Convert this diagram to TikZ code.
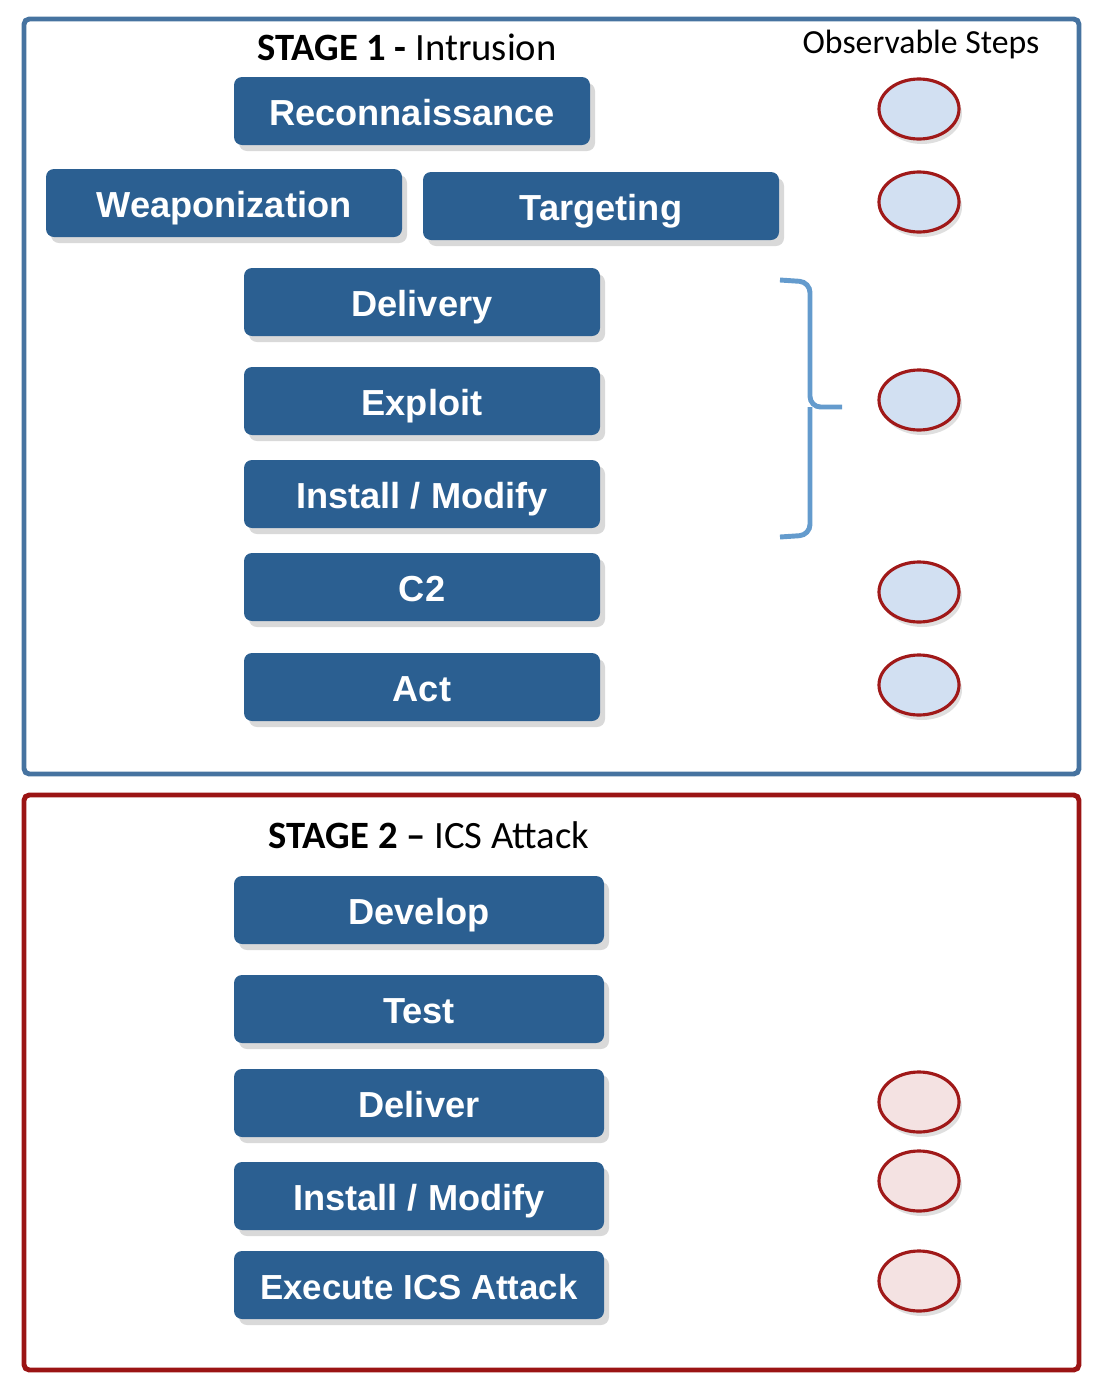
\documentclass[tikz,border=0pt]{standalone}
\usepackage{fontspec}
\setmainfont{Carlito}
\newfontfamily\boxfont{Liberation Sans}
\usetikzlibrary{shadows,shapes.geometric}

\definecolor{frameblue}{RGB}{70,115,160}
\definecolor{framered}{RGB}{155,20,20}
\definecolor{stepblue}{RGB}{43,95,145}
\definecolor{bracketblue}{RGB}{100,155,205}
\definecolor{ovalblue}{RGB}{210,224,242}
\definecolor{ovalred}{RGB}{244,226,226}
\definecolor{ovaledge}{RGB}{160,25,25}

\begin{document}
\begin{tikzpicture}[
	stepbox/.style={rectangle, rounded corners=0.08cm, fill=stepblue, text=white,
		font=\boxfont\bfseries\fontsize{10.3}{12}\selectfont,
		text height=1.05em, text depth=0.2em,
		minimum width=3.56cm, minimum height=0.68cm, inner sep=0pt,
		drop shadow={shadow xshift=0.05cm, shadow yshift=-0.06cm, opacity=0.3}},
	widebox/.style={stepbox, minimum width=3.7cm},
	obs/.style={ellipse, draw=ovaledge, line width=0.9pt, minimum width=0.8cm,
		minimum height=0.6cm, inner sep=0pt,
		drop shadow={shadow xshift=0.03cm, shadow yshift=-0.05cm, opacity=0.25}},
	stagetitle/.style={font=\fontsize{11}{13}\selectfont, inner sep=0pt},
	frame/.style={line width=1.4pt, rounded corners=1.5pt}
]
	\useasboundingbox (0,0) rectangle (11.04,-13.88);

	% stage frames
	\draw[frame, frameblue] (0.24,-0.19) rectangle (10.79,-7.74);
	\draw[frame, framered] (0.24,-7.95) rectangle (10.79,-13.70);

	% titles
	\node[stagetitle] (title1) at (4.07,-0.47) {\textbf{STAGE 1 -} Intrusion};
	\node[stagetitle] (title2) at (4.29,-8.35) {\textbf{STAGE 2 --} ICS Attack};
	\node[font=\fontsize{9.6}{11}\selectfont, inner sep=0pt] (obstitle) at (9.21,-0.44) {Observable Steps};

	% stage 1 steps
	\node[stepbox] (recon) at (4.12,-1.11) {Reconnaissance};
	\node[stepbox] (weapon) at (2.24,-2.03) {Weaponization};
	\node[stepbox] (target) at (6.01,-2.06) {Targeting};
	\node[stepbox] (delivery) at (4.22,-3.02) {Delivery};
	\node[stepbox] (exploit) at (4.22,-4.01) {Exploit};
	\node[stepbox] (install) at (4.22,-4.94) {Install / Modify};
	\node[stepbox] (ctwo) at (4.22,-5.87) {C2};
	\node[stepbox] (act) at (4.22,-6.87) {Act};

	% stage 2 steps
	\node[widebox] (develop) at (4.19,-9.10) {Develop};
	\node[widebox] (test) at (4.19,-10.09) {Test};
	\node[widebox] (deliver) at (4.19,-11.03) {Deliver};
	\node[widebox] (installb) at (4.19,-11.96) {Install / Modify};
	\node[widebox, font=\boxfont\bfseries\fontsize{9.9}{12}\selectfont] (execute) at (4.19,-12.85) {Execute ICS Attack};

	% observable steps
	\foreach \y [count=\i] in {1.09,2.02,4.00,5.92,6.85}
		\node[obs, fill=ovalblue] (obs\i) at (9.19,-\y) {};
	\foreach \y [count=\i] in {11.02,11.81,12.81}
		\node[obs, fill=ovalred] (obsb\i) at (9.19,-\y) {};

	% bracket
	\coordinate (brtip) at (8.42,-4.07);
	\draw[bracketblue, line width=1.4pt, rounded corners=3pt]
		(7.80,-2.80) -- (8.10,-2.82) -- (8.10,-4.07) -- (brtip);
	\draw[bracketblue, line width=1.4pt, rounded corners=3pt]
		(7.80,-5.37) -- (8.10,-5.35) -- (8.10,-4.07);
\end{tikzpicture}
\end{document}
